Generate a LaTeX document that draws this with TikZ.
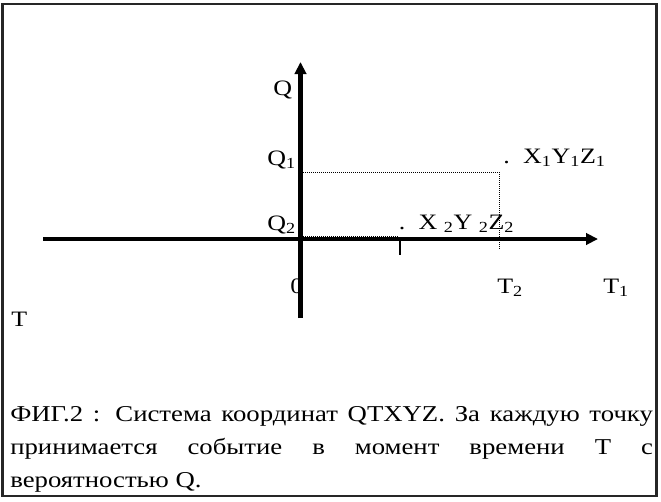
\documentclass[tikz,border=0pt]{standalone}
\usepackage{fontspec}
\setmainfont{Liberation Serif}[FakeStretch=1.18]
\usetikzlibrary{arrows.meta}
\begin{document}
\begin{tikzpicture}[x=0.75pt,y=-0.75pt,
  lab/.style={font=\fontsize{16.5}{20}\selectfont, inner sep=0pt, anchor=base west},
  axis/.style={line width=3.5pt, -{Triangle[length=9pt,width=8.5pt]}},
  guide/.style={line width=0.75pt, dash pattern=on 0.75pt off 0.75pt},
  frame/.style={line width=2pt, draw=black!85}]
\useasboundingbox (0,0) rectangle (661,501);
\draw[frame] (2.5,4) rectangle (656.5,496);
\node[lab] (zero) at (290,293) {0};
\coordinate (tL) at (43,239);
\coordinate (tR) at (598,239);
\coordinate (qB) at (300.5,318);
\coordinate (qT) at (300.5,62);
\draw[axis] (tL) -- (tR);
\draw[axis] (qB) -- (qT);
\coordinate (tk1) at (400,237);
\coordinate (tk2) at (400,255);
\draw[line width=1.6pt] (tk1) -- (tk2);
\coordinate (g1) at (303,172);
\coordinate (g2) at (499,172);
\coordinate (g3) at (499,250);
\coordinate (g4) at (303,236);
\coordinate (g5) at (398,236);
\draw[guide] (g1) -- (g2) -- (g3);
\draw[guide] (g4) -- (g5);
\node[lab] (Q) at (273,95) {Q};
\node[lab] (Q1) at (267,165) {Q\textsubscript{1}};
\node[lab] (Q2) at (267,230) {Q\textsubscript{2}};
\node[lab] (T2) at (497,293) {T\textsubscript{2}};
\node[lab] (T1) at (603,293) {T\textsubscript{1}};
\node[lab] (T) at (11,326) {T};
\node[lab] (P1) at (503,163) {.\hspace{10pt}X\textsubscript{1}Y\textsubscript{1}Z\textsubscript{1}};
\node[lab] (P2) at (398.5,229) {.\hspace{10pt}X \textsubscript{2}Y \textsubscript{2}Z\textsubscript{2}};
\node[anchor=base west, inner sep=0pt, text width=482pt, align=justify,
  font=\fontsize{17}{24.75}\selectfont] (cap) at (10,421)
  {\hyphenpenalty=10000 ФИГ.2 : Система координат QTXYZ. За каждую точку\linebreak
   принимается событие в момент времени T с\linebreak
   вероятностью Q.};
\end{tikzpicture}
\end{document}
